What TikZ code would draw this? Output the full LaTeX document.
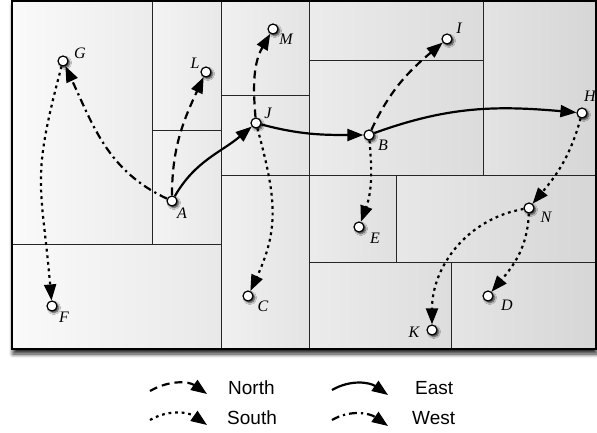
\documentclass[tikz,border=0pt]{standalone}
\usepackage{fontspec}
\setmainfont{Liberation Serif}
\setsansfont{Liberation Sans}
\usetikzlibrary{arrows.meta,shadows.blur}
\begin{document}
\begin{tikzpicture}[x=1pt,y=1pt,
  grid/.style={line width=0.9pt,draw=black!85},
  vert/.style={circle,draw,fill=white,line width=1.2pt,inner sep=0pt,minimum size=10pt,
    blur shadow={shadow xshift=1.8pt,shadow yshift=-1.8pt,shadow blur steps=6,shadow opacity=80}},
  lbl/.style={font=\fontsize{16}{18}\selectfont\itshape,inner sep=0pt},
  leg/.style={font=\sffamily\fontsize{19}{22}\selectfont,inner sep=0pt,anchor=west},
  link/.style={line width=2.2pt,-{Triangle[length=16pt,width=12pt,fill=black]}},
  north/.style={link,dash pattern=on 8pt off 5pt},
  south/.style={link,dash pattern=on 2.8pt off 3.8pt},
  east/.style={link},
  west/.style={link,dash pattern=on 8pt off 4pt on 2.2pt off 4pt},
]
\useasboundingbox (0,0) rectangle (597,432);
% frame with shadow
\fill[white,blur shadow={shadow xshift=1pt,shadow yshift=-5pt,shadow blur steps=8,shadow blur radius=4pt,shadow opacity=85}] (12,83) rectangle (596,431);
% cells
\shade[left color=black!2,right color=black!7.6] (12,188) rectangle (152,431);
\shade[left color=black!4.6,right color=black!8.9] (152,302) rectangle (221,431);
\shade[left color=black!4.6,right color=black!8.9] (152,188) rectangle (221,302);
\shade[left color=black!2,right color=black!8.9] (12,83) rectangle (221,188);
\shade[left color=black!5.9,right color=black!10.6] (221,337) rectangle (309,431);
\shade[left color=black!5.9,right color=black!10.6] (221,257) rectangle (309,337);
\shade[left color=black!5.9,right color=black!10.6] (221,83) rectangle (309,257);
\shade[left color=black!7.6,right color=black!13.9] (309,372) rectangle (483,431);
\shade[left color=black!7.6,right color=black!13.9] (309,257) rectangle (483,372);
\shade[left color=black!10.9,right color=black!16] (483,257) rectangle (596,431);
\shade[left color=black!7.6,right color=black!12.2] (309,170) rectangle (396,257);
\shade[left color=black!9.2,right color=black!16] (396,170) rectangle (596,257);
\shade[left color=black!7.6,right color=black!13.3] (309,83) rectangle (451,170);
\shade[left color=black!10.3,right color=black!16] (451,83) rectangle (596,170);
% grid lines
\draw[grid] (152,431) -- (152,188);
\draw[grid] (152,302) -- (221,302);
\draw[grid] (12,188) -- (221,188);
\draw[grid] (221,431) -- (221,83);
\draw[grid] (221,337) -- (309,337);
\draw[grid] (221,257) -- (596,257);
\draw[grid] (309,431) -- (309,83);
\draw[grid] (309,372) -- (483,372);
\draw[grid] (483,431) -- (483,257);
\draw[grid] (396,257) -- (396,170);
\draw[grid] (309,170) -- (596,170);
\draw[grid] (451,170) -- (451,83);
\draw[line width=1.4pt] (12,83) rectangle (596,431);
% vertices
\node[vert] (G) at (63,371) {};
\node[vert] (L) at (206,360) {};
\node[vert] (M) at (273,403) {};
\node[vert] (J) at (256,309) {};
\node[vert] (A) at (172,231) {};
\node[vert] (F) at (52,126) {};
\node[vert] (C) at (248,136) {};
\node[vert] (I) at (447,393) {};
\node[vert] (B) at (369,297) {};
\node[vert] (H) at (582,319) {};
\node[vert] (E) at (359,205) {};
\node[vert] (N) at (529,224) {};
\node[vert] (D) at (488,136) {};
\node[vert] (K) at (432,102) {};
% labels
\node[lbl] (lG) at ([shift={(17,8)}]G.center) {G};
\node[lbl] (lL) at ([shift={(-11,9)}]L.center) {L};
\node[lbl] (lM) at ([shift={(13,-10)}]M.center) {M};
\node[lbl] (lJ) at ([shift={(12,10)}]J.center) {J};
\node[lbl] (lA) at ([shift={(10,-12)}]A.center) {A};
\node[lbl] (lF) at ([shift={(12,-11)}]F.center) {F};
\node[lbl] (lC) at ([shift={(15,-10)}]C.center) {C};
\node[lbl] (lI) at ([shift={(12,11)}]I.center) {I};
\node[lbl] (lB) at ([shift={(14,-10)}]B.center) {B};
\node[lbl] (lH) at ([shift={(8,17)}]H.center) {H};
\node[lbl] (lE) at ([shift={(16,-11)}]E.center) {E};
\node[lbl] (lN) at ([shift={(17,-9)}]N.center) {N};
\node[lbl] (lD) at ([shift={(19,-9)}]D.center) {D};
\node[lbl] (lK) at ([shift={(-18,-2)}]K.center) {K};
% links
\draw[east] (A) to[out=60,in=-140] (J);
\draw[east] (J) to[out=-15,in=180] (B);
\draw[east] (B) to[out=20,in=175] (H);
\draw[north] (A) to[out=90,in=-115] (L);
\draw[north] (J) to[out=95,in=-120] (M);
\draw[north] (B) to[out=65,in=-140] (I);
\draw[west] (A) to[out=155,in=-65] (G);
\draw[south] (G) to[out=-105,in=95,looseness=1.3] (F);
\draw[south] (J) to[out=-75,in=65,looseness=1.1] (C);
\draw[south] (B) to[out=-85,in=70] (E);
\draw[south] (H) to[out=-105,in=50] (N);
\draw[south] (N) to[out=190,in=90] (K);
\draw[south] (N) to[out=-92,in=50] (D);
% legend
\coordinate (n1) at (150,41); \coordinate (n2) at (207,38);
\coordinate (s1) at (150,12); \coordinate (s2) at (207,7);
\coordinate (e1) at (332,42); \coordinate (e2) at (388,37);
\coordinate (w1) at (332,12); \coordinate (w2) at (388,6);
\draw[north] (n1) to[out=30,in=145] (n2);
\draw[south] (s1) to[out=30,in=145] (s2);
\draw[east] (e1) to[out=30,in=145] (e2);
\draw[west] (w1) to[out=30,in=145] (w2);
\node[leg] (tN) at (228,44) {North};
\node[leg] (tS) at (227,14) {South};
\node[leg] (tE) at (415,44) {East};
\node[leg] (tW) at (412,14) {West};
\end{tikzpicture}
\end{document}
